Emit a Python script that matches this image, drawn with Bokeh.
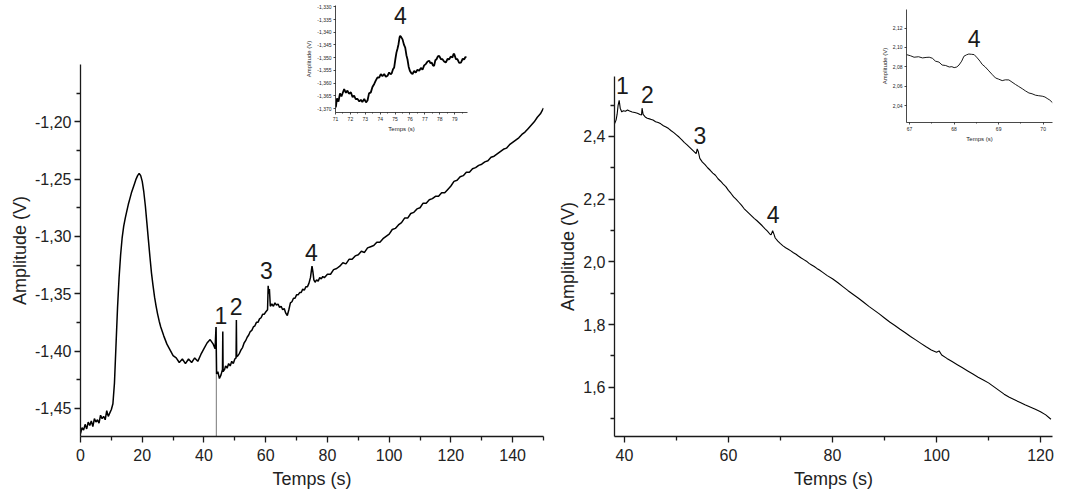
from bokeh.plotting import figure
from bokeh.models import (GridBox, FixedTicker, CustomJSTickFormatter)
from bokeh.core.properties import value
from bokeh.embed import file_html
from bokeh.resources import INLINE

# ---------------- data ----------------
left_t = [0, 0.5, 1, 1.5, 2, 2.5, 3, 3.5, 4, 4.5, 5, 5.5, 6, 6.5, 7, 7.5, 8, 8.5, 9, 9.5,
          10, 10.5, 11, 11.5, 12, 12.5, 13, 13.5, 14, 14.5, 15, 15.5, 16, 16.5, 17, 17.5,
          18, 18.5, 19, 19.5, 20, 20.5, 21, 21.5, 22, 22.5, 23, 23.5, 24, 24.5, 25, 25.5,
          26, 27, 28, 29, 30, 31, 32, 33, 34, 35, 36, 37, 38, 39, 40, 41, 42, 43, 43.6,
          43.9, 44.1, 44.5, 45, 45.5, 46.0, 46.1, 46.2, 46.7, 47, 47.5, 48, 48.5,
          49, 49.5, 50, 50.4, 50.5, 50.6, 51, 51.5, 52, 52.5, 53, 53.5, 54, 54.5, 55,
          55.5, 56, 56.5, 57, 57.5, 58, 58.5, 59, 59.5, 60, 60.6, 60.8, 61.0, 61.2, 61.5,
          62, 62.5, 63, 63.5, 64, 64.5, 65, 65.5, 66, 66.5, 67, 67.5, 68, 68.5, 69, 69.5,
          70, 70.5, 71, 71.5, 72, 72.5, 73, 73.5, 74, 74.5, 75, 75.3, 75.6, 76, 76.5, 77,
          77.5, 78, 78.5, 79, 80, 81, 82, 83, 84, 85, 86, 87, 88, 89, 90, 91, 92, 93, 94,
          95, 96, 97, 98, 99, 100, 101, 102, 103, 104, 105, 106, 107, 108, 109, 110, 111,
          112, 113, 114, 115, 116, 117, 118, 119, 120, 121, 122, 123, 124, 125, 126, 127,
          128, 129, 130, 131, 132, 133, 134, 135, 136, 137, 138, 139, 140, 141, 142, 143,
          144, 145, 146, 147, 148, 149, 150]
left_v = [-1.472, -1.467, -1.469, -1.464, -1.468, -1.462, -1.465, -1.461, -1.466, -1.459,
          -1.462, -1.460, -1.463, -1.456, -1.459, -1.457, -1.460, -1.452, -1.457, -1.454,
          -1.451, -1.446, -1.428, -1.395, -1.362, -1.336, -1.316, -1.301, -1.291, -1.284,
          -1.278, -1.272, -1.267, -1.262, -1.258, -1.254, -1.250, -1.247, -1.245, -1.247,
          -1.252, -1.261, -1.273, -1.288, -1.303, -1.318, -1.332, -1.343, -1.353, -1.361,
          -1.368, -1.374, -1.379, -1.387, -1.394, -1.399, -1.404, -1.406, -1.410, -1.407,
          -1.411, -1.407, -1.410, -1.406, -1.409, -1.403, -1.398, -1.393, -1.390, -1.394,
          -1.398, -1.379, -1.420, -1.418, -1.424, -1.421, -1.416, -1.383, -1.418,
          -1.416, -1.413, -1.415, -1.411, -1.413, -1.409, -1.411, -1.407, -1.406, -1.373,
          -1.405, -1.404, -1.402, -1.399, -1.397, -1.393, -1.391, -1.388, -1.386, -1.383,
          -1.382, -1.379, -1.378, -1.375, -1.375, -1.372, -1.371, -1.368, -1.368, -1.366,
          -1.364, -1.343, -1.350, -1.346, -1.361, -1.359, -1.361, -1.358, -1.360, -1.359,
          -1.362, -1.361, -1.364, -1.363, -1.367, -1.369, -1.364, -1.358, -1.357, -1.354,
          -1.354, -1.351, -1.351, -1.349, -1.349, -1.346, -1.347, -1.344, -1.344, -1.341,
          -1.336, -1.326, -1.331, -1.338, -1.340, -1.338, -1.339, -1.336, -1.337, -1.335,
          -1.336, -1.333, -1.333, -1.329, -1.328, -1.326, -1.323, -1.324, -1.320, -1.320,
          -1.317, -1.316, -1.313, -1.314, -1.310, -1.309, -1.308, -1.305, -1.305, -1.302,
          -1.300, -1.298, -1.294, -1.293, -1.290, -1.288, -1.284, -1.284, -1.280, -1.279,
          -1.276, -1.275, -1.271, -1.271, -1.268, -1.267, -1.265, -1.265, -1.262, -1.262,
          -1.259, -1.256, -1.252, -1.251, -1.248, -1.247, -1.244, -1.244, -1.241, -1.240,
          -1.238, -1.237, -1.235, -1.234, -1.231, -1.230, -1.228, -1.226, -1.224, -1.223,
          -1.220, -1.218, -1.216, -1.214, -1.211, -1.209, -1.206, -1.203, -1.200, -1.196,
          -1.193, -1.188]

# thin grey drop-out spike near t = 44 s
spike_t = [44.0, 44.0]
spike_v = [-1.379, -1.4746]

left_peaks_t = [45.5, 50.4, 60.2, 74.8]
left_peaks_v = [-1.369, -1.361, -1.330, -1.314]
peak_names = ["1", "2", "3", "4"]

left_inset_t = [71.02, 71.1, 71.2, 71.3, 71.4, 71.58, 71.7, 71.8, 71.9, 72.03, 72.15, 72.25,
                72.35, 72.48, 72.6, 72.7, 72.8, 72.93, 73.05, 73.15, 73.25, 73.37, 73.48,
                73.6, 73.7, 73.82, 73.93, 74.04, 74.15, 74.27, 74.38, 74.49, 74.6, 74.7,
                74.78, 74.86, 74.94, 75.02, 75.09, 75.16, 75.23, 75.3, 75.34, 75.42, 75.5,
                75.6, 75.68, 75.76, 75.83, 75.91, 75.99, 76.08, 76.17, 76.28, 76.39, 76.5,
                76.62, 76.73, 76.84, 76.95, 77.06, 77.18, 77.29, 77.38, 77.46, 77.54, 77.62,
                77.7, 77.78, 77.87, 77.96, 78.07, 78.18, 78.29, 78.4, 78.52, 78.63, 78.74,
                78.85, 78.92, 78.97, 79.08, 79.19, 79.3, 79.42, 79.53, 79.64, 79.72, 79.79]
left_inset_v = [-1.3695, -1.3660, -1.3672, -1.3640, -1.3652, -1.3623, -1.3638, -1.3629,
                -1.3641, -1.3636, -1.3655, -1.3649, -1.3662, -1.3662, -1.3672, -1.3665,
                -1.3674, -1.3662, -1.3675, -1.3668, -1.3640, -1.3636, -1.3615, -1.3603,
                -1.3590, -1.3577, -1.3578, -1.3564, -1.3572, -1.3564, -1.3575, -1.3571,
                -1.3558, -1.3565, -1.3560, -1.3545, -1.3538, -1.3505, -1.3480, -1.3465,
                -1.3447, -1.3420, -1.3414, -1.3420, -1.3428, -1.3450, -1.3460, -1.3490,
                -1.3506, -1.3535, -1.3551, -1.3560, -1.3564, -1.3552, -1.3558, -1.3547,
                -1.3551, -1.3540, -1.3547, -1.3530, -1.3525, -1.3515, -1.3512, -1.3522,
                -1.3519, -1.3530, -1.3532, -1.3510, -1.3506, -1.3495, -1.3493, -1.3505,
                -1.3506, -1.3515, -1.3519, -1.3505, -1.3506, -1.3495, -1.3499, -1.3485,
                -1.3486, -1.3505, -1.3506, -1.3520, -1.3519, -1.3505, -1.3506, -1.3497,
                -1.3499]
left_inset_label_t = [75.36]
left_inset_label_v = [-1.3336]

right_t = [38.1, 38.4, 38.6, 38.8, 39.0, 39.2, 39.5, 39.8, 40.2, 40.6, 41.0, 41.5, 42.0,
           42.5, 43.0, 43.3, 43.4, 43.6, 44.0, 44.4, 45, 45.5, 46, 46.5, 47, 47.5, 48,
           48.5, 49, 49.5, 50, 50.5, 51, 51.5, 52, 52.5, 53, 53.5, 53.8, 54.0, 54.2, 54.5,
           55, 55.5, 56, 56.5, 57, 57.5, 58, 58.5, 59, 59.5, 60, 60.5, 61, 61.5, 62, 62.5,
           63, 63.5, 64, 64.5, 65, 65.5, 66, 66.5, 67, 67.5, 68, 68.2, 68.5, 68.8, 69,
           69.5, 70, 70.5, 71, 71.5, 72, 72.5, 73, 73.5, 74, 74.5, 75, 75.5, 76, 76.5, 77,
           77.5, 78, 79, 80, 81, 82, 83, 84, 85, 86, 87, 88, 89, 90, 91, 92, 93, 94, 95,
           96, 97, 98, 99, 100, 100.5, 101, 102, 103, 104, 105, 106, 107, 108, 109, 110,
           111, 112, 113, 114, 115, 116, 117, 118, 119, 120, 121, 122]
right_v = [2.440, 2.452, 2.470, 2.500, 2.515, 2.490, 2.478, 2.482, 2.480, 2.484, 2.481,
           2.478, 2.476, 2.474, 2.470, 2.468, 2.490, 2.470, 2.462, 2.458, 2.455, 2.452,
           2.447, 2.444, 2.440, 2.434, 2.430, 2.425, 2.418, 2.412, 2.405, 2.398, 2.390,
           2.381, 2.374, 2.366, 2.358, 2.350, 2.345, 2.360, 2.352, 2.330, 2.318, 2.310,
           2.300, 2.292, 2.283, 2.276, 2.265, 2.257, 2.248, 2.240, 2.228, 2.218, 2.207,
           2.199, 2.190, 2.181, 2.170, 2.162, 2.154, 2.146, 2.138, 2.131, 2.123, 2.115,
           2.106, 2.098, 2.088, 2.086, 2.099, 2.086, 2.076, 2.066, 2.058, 2.051, 2.045,
           2.040, 2.035, 2.029, 2.024, 2.018, 2.012, 2.007, 2.002, 1.995, 1.990, 1.985,
           1.979, 1.974, 1.968, 1.956, 1.946, 1.934, 1.921, 1.908, 1.896, 1.884, 1.871,
           1.858, 1.846, 1.834, 1.821, 1.808, 1.797, 1.785, 1.774, 1.762, 1.751, 1.740,
           1.729, 1.719, 1.712, 1.716, 1.703, 1.692, 1.682, 1.672, 1.662, 1.652, 1.642,
           1.632, 1.623, 1.614, 1.602, 1.590, 1.578, 1.568, 1.560, 1.552, 1.544, 1.537,
           1.530, 1.522, 1.512, 1.498]

right_peaks_t = [39.6, 44.4, 54.5, 68.6]
right_peaks_v = [2.562, 2.533, 2.403, 2.151]

right_inset_t = [66.93, 67.02, 67.10, 67.2, 67.29, 67.37, 67.44, 67.51, 67.58, 67.66, 67.73,
                 67.81, 67.89, 67.95, 68.0, 68.06, 68.11, 68.17, 68.22, 68.28, 68.33, 68.39,
                 68.45, 68.52, 68.58, 68.63, 68.7, 68.78, 68.85, 68.93, 69.0, 69.08, 69.15,
                 69.23, 69.3, 69.38, 69.45, 69.53, 69.6, 69.68, 69.75, 69.83, 69.9, 69.98,
                 70.04, 70.09, 70.15, 70.21]
right_inset_v = [2.0927, 2.0915, 2.0900, 2.0905, 2.0893, 2.0898, 2.0900, 2.0890, 2.0860,
                 2.0850, 2.0820, 2.0815, 2.0800, 2.0803, 2.0793, 2.0800, 2.0820, 2.0860,
                 2.0910, 2.0925, 2.0933, 2.0930, 2.0927, 2.0893, 2.0860, 2.0827, 2.0800,
                 2.0760, 2.0725, 2.0687, 2.0675, 2.0660, 2.0668, 2.0667, 2.0645, 2.0620,
                 2.0600, 2.0577, 2.0555, 2.0533, 2.0525, 2.0510, 2.0505, 2.0500, 2.0492,
                 2.0477, 2.0460, 2.0433]
right_inset_label_t = [68.45]
right_inset_label_v = [2.1093]

left_xticks = [0, 20, 40, 60, 80, 100, 120, 140]
left_yticks = [-1.45, -1.40, -1.35, -1.30, -1.25, -1.20]
right_xticks = [40, 60, 80, 100, 120]
right_yticks = [1.6, 1.8, 2.0, 2.2, 2.4]
linset_xticks = [71, 72, 73, 74, 75, 76, 77, 78, 79]
linset_yticks = [-1.370, -1.365, -1.360, -1.355, -1.350, -1.345, -1.340, -1.335, -1.330]
rinset_xticks = [67, 68, 69, 70]
rinset_yticks = [2.04, 2.06, 2.08, 2.10, 2.12]

FONT = "Liberation Sans"
INK = "#1a1a1a"
MAIN_H = 494


def comma_fmt(decimals):
    return CustomJSTickFormatter(
        code="return tick.toFixed(%d).replace('.', ',');" % decimals)


def style_axes(p, tick_size, title_size, tick_out, minor_out, lw, lstand, tstand):
    p.xgrid.visible = False
    p.ygrid.visible = False
    p.outline_line_color = None
    for ax in (p.xaxis[0], p.yaxis[0]):
        ax.axis_line_color = INK
        ax.axis_line_width = lw
        ax.major_tick_line_color = INK
        ax.major_tick_line_width = lw
        ax.minor_tick_line_color = INK
        ax.minor_tick_line_width = lw
        ax.major_tick_in = 0
        ax.major_tick_out = tick_out
        ax.minor_tick_in = 0
        ax.minor_tick_out = minor_out
        ax.major_label_text_font = FONT
        ax.major_label_text_font_size = tick_size
        ax.major_label_text_color = "#222222"
        ax.axis_label_text_font = FONT
        ax.axis_label_text_font_size = title_size
        ax.axis_label_text_font_style = "normal"
        ax.axis_label_text_color = "#222222"
        ax.major_label_standoff = lstand
        ax.axis_label_standoff = tstand


def main_fig(width, xr, yr, mb_left, mb_right, mb_top):
    p = figure(width=width, height=MAIN_H, x_range=xr, y_range=yr,
               output_backend="svg", toolbar_location=None,
               min_border_left=mb_left, min_border_right=mb_right,
               min_border_top=mb_top, min_border_bottom=58,
               background_fill_color=None, border_fill_color=None,
               frame_align=False)
    p.xaxis.axis_label = "Temps (s)"
    p.yaxis.axis_label = "Amplitude (V)"
    style_axes(p, "16px", "18px", 6, 4, 1.3, 6, 5)
    p.yaxis.major_label_standoff = 3
    p.yaxis.axis_label_standoff = 2
    return p


def inset_fig(width, height, xr, yr, mb_left, mb_top, mb_right, margin_left):
    p = figure(width=width, height=height, x_range=xr, y_range=yr,
               output_backend="svg", toolbar_location=None,
               min_border_left=mb_left, min_border_right=mb_right,
               min_border_top=mb_top, min_border_bottom=20,
               background_fill_alpha=0, border_fill_alpha=0,
               margin=(0, 0, 0, margin_left), frame_align=False)
    p.xaxis.axis_label = "Temps (s)"
    p.yaxis.axis_label = "Amplitude (V)"
    style_axes(p, "5px", "6px", 2, 1, 0.8, 2, 2)
    return p


# ---------------- left main ----------------
pl = main_fig(550, (0, 150), (-1.4746, -1.150), 80, 7, 64)
pl.xaxis.ticker = FixedTicker(ticks=left_xticks,
                              minor_ticks=[t + 10 for t in left_xticks])
pl.yaxis.ticker = FixedTicker(ticks=left_yticks,
                              minor_ticks=[v - 0.025 for v in left_yticks] + [-1.175])
pl.yaxis.formatter = comma_fmt(2)
pl.line(spike_t, spike_v, line_color="#777777", line_width=1)
pl.line(left_t, left_v, line_color="black", line_width=1.5)
pl.text(left_peaks_t, left_peaks_v, text=peak_names, text_font=value(FONT),
        text_font_size="23px", text_align="center", text_baseline="middle",
        text_color=INK)

# ---------------- left inset ----------------
pli = inset_fig(175, 134, (71, 79.86), (-1.3715, -1.3295), 38, 5, 5, 297)
pli.xaxis.ticker = FixedTicker(ticks=linset_xticks,
                               minor_ticks=[t + 0.5 for t in linset_xticks])
pli.yaxis.ticker = FixedTicker(ticks=linset_yticks)
pli.yaxis.formatter = comma_fmt(3)
pli.line(left_inset_t, left_inset_v, line_color="black", line_width=1.8)
pli.text(left_inset_label_t, left_inset_label_v, text=["4"], text_font=value(FONT),
         text_font_size="23px", text_align="center", text_baseline="middle",
         text_color=INK)

# ---------------- right main ----------------
pr = main_fig(506, (38.1, 122.3), (1.443, 2.591), 64, 4, 76)
pr.xaxis.ticker = FixedTicker(ticks=right_xticks,
                              minor_ticks=[t + 10 for t in right_xticks])
pr.yaxis.ticker = FixedTicker(ticks=right_yticks,
                              minor_ticks=[round(v - 0.1, 2) for v in right_yticks] + [2.5])
pr.yaxis.formatter = comma_fmt(1)
pr.line(right_t, right_v, line_color="black", line_width=1.1)
pr.text(right_peaks_t, right_peaks_v, text=peak_names, text_font=value(FONT),
        text_font_size="23px", text_align="center", text_baseline="middle",
        text_color=INK)

# ---------------- right inset ----------------
pri = inset_fig(194, 144, (66.93, 70.21), (2.023, 2.139), 44, 9, 4, 312)
pri.xaxis.ticker = FixedTicker(ticks=rinset_xticks,
                               minor_ticks=[t + 0.5 for t in rinset_xticks])
pri.yaxis.ticker = FixedTicker(ticks=rinset_yticks)
pri.yaxis.formatter = comma_fmt(2)
pri.line(right_inset_t, right_inset_v, line_color="black", line_width=0.9)
pri.text(right_inset_label_t, right_inset_label_v, text=["4"], text_font=value(FONT),
         text_font_size="23px", text_align="center", text_baseline="middle",
         text_color=INK)

grid = GridBox(children=[(pl, 0, 0), (pli, 0, 0), (pr, 0, 1), (pri, 0, 1)],
               margin=(0, 0, -6, 0))

open("out.html", "w").write(file_html(grid, INLINE))
